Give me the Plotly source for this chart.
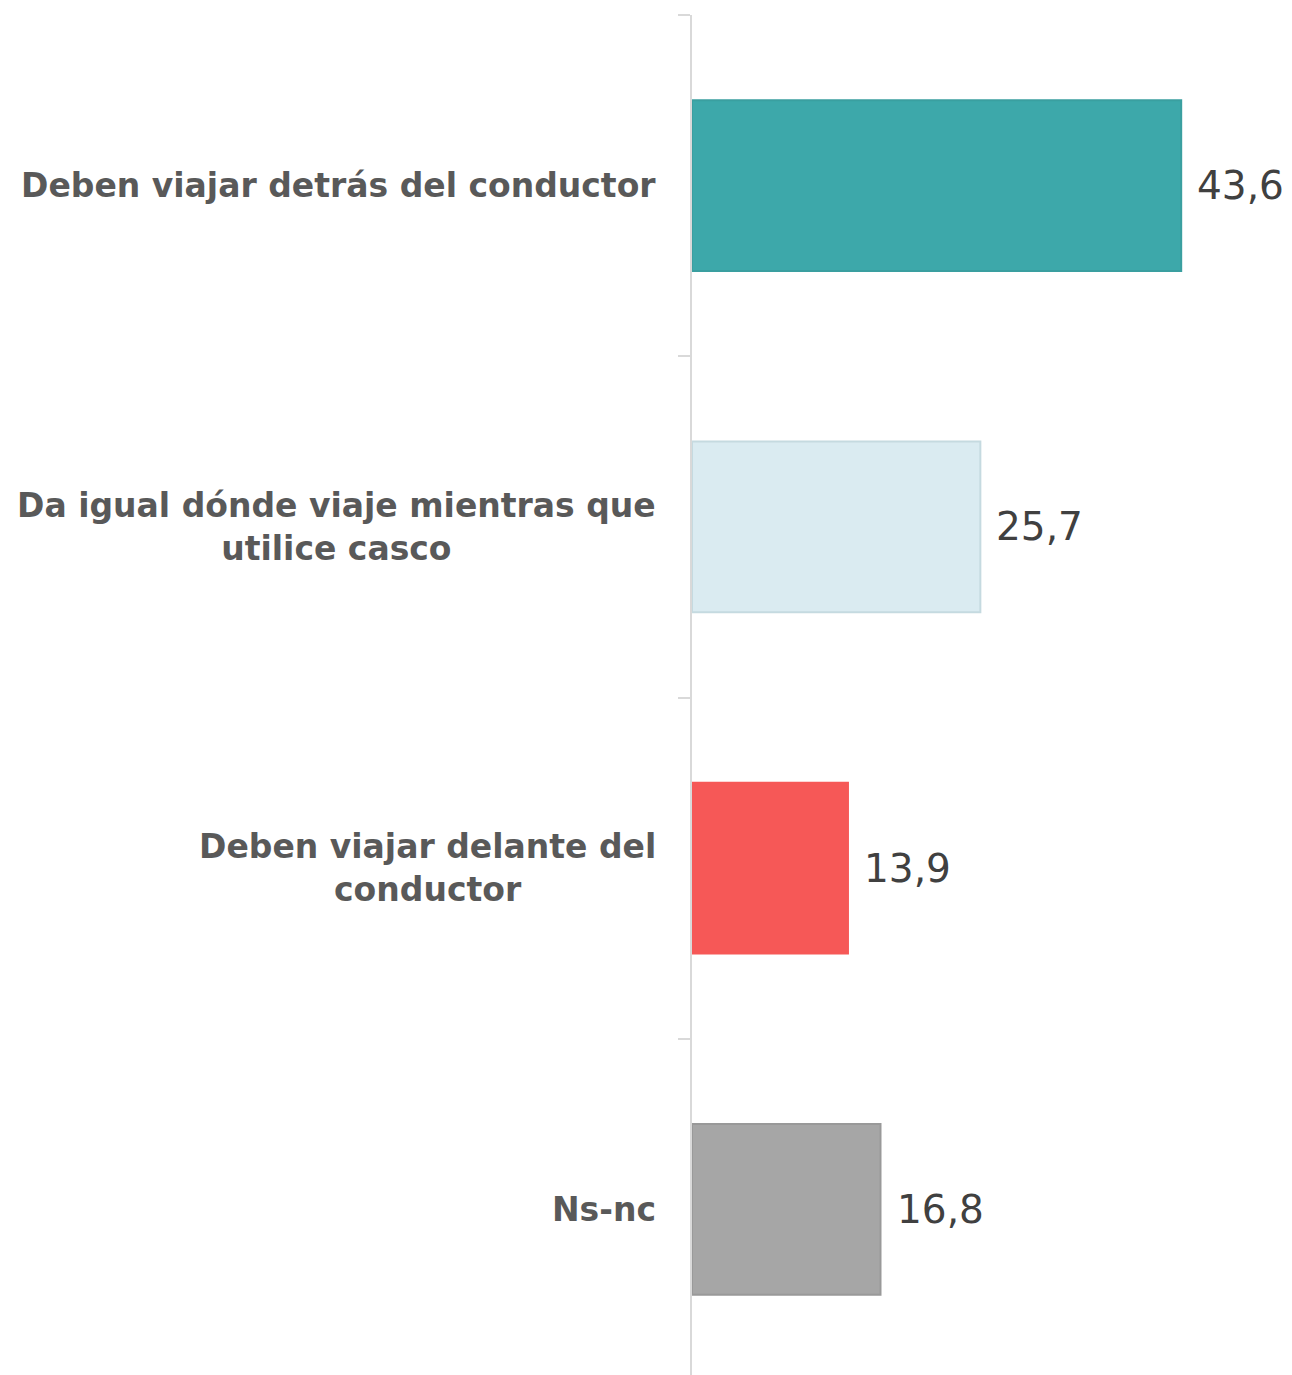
import plotly.graph_objects as go

categories = ["Deben viajar detrás del conductor",
              "Da igual dónde viaje mientras que<br>utilice casco",
              "Deben viajar delante del<br>conductor",
              "Ns-nc"]
values = [43.6, 25.7, 13.9, 16.8]
value_labels = [f"{v:.1f}".replace(".", ",") for v in values]
fill_colors = ["#3DA8AA", "#DAEBF1", "#F65857", "#A6A6A6"]
line_colors = ["#3A9FA0", "#C5DAE0", "#F65857", "#999999"]

fig = go.Figure()
fig.add_trace(go.Bar(
    x=values, y=categories, orientation="h",
    marker=dict(color=fill_colors, line=dict(color=line_colors, width=2)),
    hoverinfo="skip",
))

for cat, v, lab in zip(categories, values, value_labels):
    fig.add_annotation(x=v, y=cat, xref="x", yref="y", text=lab, showarrow=False,
                       xanchor="left", yanchor="middle", xshift=14,
                       font=dict(family="DejaVu Sans", size=39, color="#404040"))
    fig.add_annotation(x=0, y=cat, xref="paper", yref="y", text=cat, showarrow=False,
                       xanchor="right", yanchor="middle", xshift=-34, align="center",
                       font=dict(family="DejaVu Sans", size=33, color="#595959", weight="bold"))

fig.update_layout(
    width=1292, height=1372,
    margin=dict(l=684, r=47, t=7, b=0),
    plot_bgcolor="white", paper_bgcolor="white",
    bargap=0.5, showlegend=False,
    xaxis=dict(range=[0, 50], visible=False),
    yaxis=dict(autorange="reversed", showticklabels=False, showline=True,
               linecolor="#D9D9D9", linewidth=2, ticks="outside", tickson="boundaries",
               ticklen=12, tickwidth=2, tickcolor="#D9D9D9", showgrid=False, zeroline=False),
)
fig.write_html("out.html")
